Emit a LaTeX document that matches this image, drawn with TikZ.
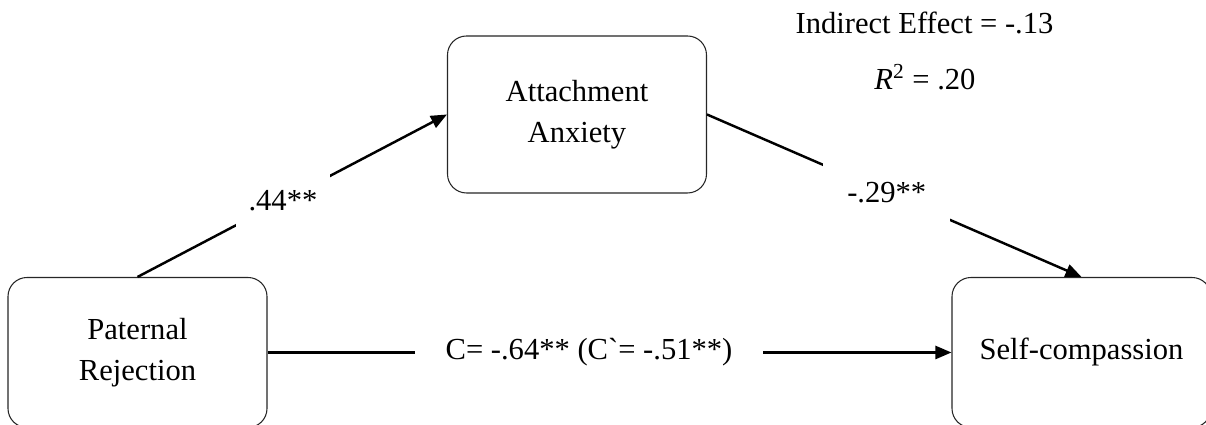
\documentclass[tikz,border=0pt]{standalone}
\usepackage{fontspec}
\setmainfont{Liberation Serif}
\usetikzlibrary{arrows.meta, positioning}

\begin{document}
\begin{tikzpicture}[>={Triangle[length=3.2mm, width=2.6mm]},
		font=\fontsize{17.4}{23.3}\selectfont,
		var/.style={rectangle, rounded corners=0.38cm, draw=black!85, line width=0.6pt, fill=white, minimum width=5.18cm, minimum height=3.0cm, align=center},
		effect/.style={->, line width=1.4pt},
		coef/.style={fill=white, inner ysep=0.4cm}]
		
		\useasboundingbox (0,0) rectangle (24.12,8.5);
		\clip (0,0) rectangle (24.12,8.5);
		
		% Variables
		\node[var] (pat_rej) at (2.75, 1.45) {Paternal\\Rejection};
		\node[var, minimum height=3.14cm] (att_anx) at (11.54, 6.21) {Attachment\\Anxiety};
		\node[var] (self_comp) at (21.63, 1.45) {Self-compassion};
		
		% Indirect effect
		\node (ind_eff) at (18.49, 8.04) {Indirect Effect = -.13};
		\node (r_sq) at (18.5, 6.96) {\textit{R}\textsuperscript{2} = .20};
		
		% Paths a, b, c
		\draw[effect] (pat_rej.north) -- node[coef, pos=0.47, inner xsep=0.25cm] (a_coef) {.44**} (att_anx.west);
		\draw[effect] (att_anx.east) -- node[coef, pos=0.48, inner xsep=0.48cm] (b_coef) {-.29**} (self_comp.north);
		\draw[effect] (pat_rej.east) -- node[coef, pos=0.47, inner xsep=0.61cm, inner ysep=0.1cm] (c_coef) {C= -.64** (C\textasciigrave= -.51**)} (self_comp.west);
		
	\end{tikzpicture}
\end{document}
